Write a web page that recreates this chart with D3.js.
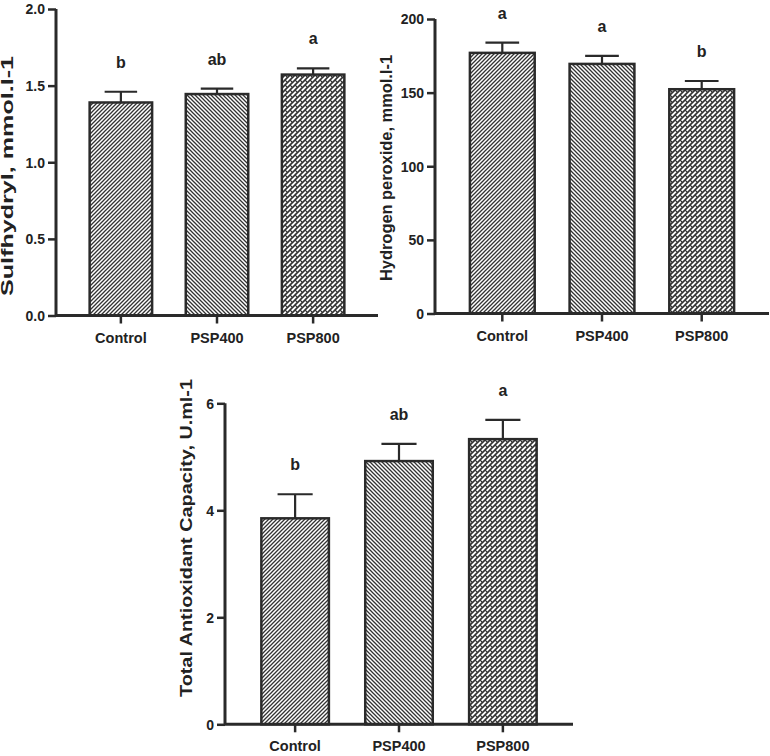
<!DOCTYPE html>
<html><head><meta charset="utf-8">
<script src="https://cdn.jsdelivr.net/npm/d3@7"></script>
<style>body{margin:0;background:#fff;} svg{display:block;} text{font-family:"Liberation Sans",Arial,sans-serif;font-weight:bold;fill:#222;}</style>
</head><body><svg id="c" width="770" height="756"></svg>
<script>
const categories = ["Control", "PSP400", "PSP800"];

const sulfhydrylMean = [1.39, 1.445, 1.572];
const sulfhydrylErr = [0.07, 0.035, 0.04];
const sulfhydrylLetters = ["b", "ab", "a"];
const sulfhydrylTicks = [0, 0.5, 1.0, 1.5, 2.0];

const peroxideMean = [177, 169.5, 152.3];
const peroxideErr = [7, 5.5, 5.6];
const peroxideLetters = ["a", "a", "b"];
const peroxideTicks = [0, 50, 100, 150, 200];

const tacMean = [3.85, 4.92, 5.33];
const tacErr = [0.45, 0.32, 0.36];
const tacLetters = ["b", "ab", "a"];
const tacTicks = [0, 2, 4, 6];

const svg = d3.select("#c");
const defs = svg.append("defs");
const ink = "#2a2a2a";

function linePattern(id, dir) {
  const s = 4;
  const p = defs.append("pattern").attr("id", id).attr("patternUnits", "userSpaceOnUse")
    .attr("width", s).attr("height", s);
  p.append("rect").attr("width", s).attr("height", s).attr("fill", "#fff");
  const d = dir > 0
    ? `M-1,${s+1} L${s+1},-1 M-1,1 L1,-1 M${s-1},${s+1} L${s+1},${s-1}`
    : `M-1,-1 L${s+1},${s+1} M-1,${s-1} L1,${s+1} M${s-1},-1 L${s+1},1`;
  p.append("path").attr("d", d).attr("stroke", "#333").attr("stroke-width", 1.3);
}
linePattern("pCtrl", 1);
linePattern("p400", -1);
(function(){
  const s = 5;
  const p = defs.append("pattern").attr("id", "p800").attr("patternUnits", "userSpaceOnUse")
    .attr("width", s).attr("height", s);
  p.append("rect").attr("width", s).attr("height", s).attr("fill", "#fff");
  p.append("path").attr("d", `M-1,${s+1} L${s+1},-1 M-1,1 L1,-1 M${s-1},${s+1} L${s+1},${s-1}`)
    .attr("stroke", "#333").attr("stroke-width", 1.6);
  p.append("path").attr("d", `M0,0 L2,2`).attr("stroke", "#333").attr("stroke-width", 1.2);
})();
const fills = ["url(#pCtrl)", "url(#p400)", "url(#p800)"];

function panel(cfg) {
  const x = d3.scaleBand().domain(categories).range(cfg.xr).padding(0.35);
  const y = d3.scaleLinear().domain([0, cfg.ymax]).range(cfg.yr);
  const g = svg.append("g");
  const data = categories.map((c, i) => ({c, m: cfg.mean[i], e: cfg.err[i], l: cfg.letters[i], f: fills[i]}));

  g.selectAll("rect.bar").data(data).join("rect").attr("class", "bar")
    .attr("x", d => x(d.c)).attr("width", x.bandwidth())
    .attr("y", d => y(d.m)).attr("height", d => y(0) - y(d.m))
    .attr("fill", d => d.f).attr("stroke", ink).attr("stroke-width", 2.5);
  const cap = x.bandwidth() * 0.26;
  g.selectAll("path.err").data(data).join("path").attr("class", "err")
    .attr("d", d => {
      const cx = x(d.c) + x.bandwidth() / 2;
      return `M${cx},${y(d.m)} V${y(d.m + d.e)} M${cx - cap},${y(d.m + d.e)} H${cx + cap}`;
    })
    .attr("stroke", ink).attr("stroke-width", 2.2).attr("fill", "none");
  g.selectAll("text.let").data(data).join("text").attr("class", "let")
    .attr("x", d => x(d.c) + x.bandwidth() / 2).attr("y", d => y(d.m + d.e) - 24)
    .attr("text-anchor", "middle").style("font-size", "16px").text(d => d.l);

  const ya = g.append("g").attr("transform", `translate(${cfg.xr[0]},0)`)
    .call(d3.axisLeft(y).tickValues(cfg.ticks).tickFormat(cfg.fmt).tickSize(8).tickPadding(3));
  ya.select(".domain").attr("d", `M0,${y(cfg.ymax)} V${y(0)}`).attr("stroke", ink).attr("stroke-width", 3);
  ya.selectAll(".tick line").attr("stroke", ink).attr("stroke-width", 2.5);
  ya.selectAll(".tick text").style("font-size", "14px").attr("fill", "#222").attr("dy", "0.35em");

  const xa = g.append("g").attr("transform", `translate(0,${y(0)})`)
    .call(d3.axisBottom(x).tickSize(8).tickPadding(4));
  xa.select(".domain").attr("d", `M${cfg.xr[0]},0 H${cfg.xr[1]}`).attr("stroke", ink).attr("stroke-width", 3);
  xa.selectAll(".tick line").attr("stroke", ink).attr("stroke-width", 2.5);
  xa.selectAll(".tick text").style("font-size", "14.5px").attr("fill", "#222").attr("y", 27).attr("dy", 0);

  g.append("text").attr("transform", `translate(${cfg.tx},${cfg.ty}) rotate(-90)`)
    .attr("text-anchor", "middle").style("font-size", "16px")
    .attr("textLength", cfg.tlen).attr("lengthAdjust", "spacingAndGlyphs").text(cfg.title);
}

panel({mean: sulfhydrylMean, err: sulfhydrylErr, letters: sulfhydrylLetters, ticks: sulfhydrylTicks,
  fmt: d3.format(".1f"), ymax: 2, xr: [56, 378], yr: [315.5, 9],
  title: "Sulfhydryl, mmol.l-1", tx: 13, ty: 176, tlen: 240});
panel({mean: peroxideMean, err: peroxideErr, letters: peroxideLetters, ticks: peroxideTicks,
  fmt: d3.format("d"), ymax: 200, xr: [435, 769], yr: [313.5, 19],
  title: "Hydrogen peroxide, mmol.l-1", tx: 392, ty: 168, tlen: 226});
panel({mean: tacMean, err: tacErr, letters: tacLetters, ticks: tacTicks,
  fmt: d3.format("d"), ymax: 6, xr: [225, 573], yr: [724.3, 403.3],
  title: "Total Antioxidant Capacity, U.ml-1", tx: 192, ty: 538, tlen: 318});
</script></body></html>
